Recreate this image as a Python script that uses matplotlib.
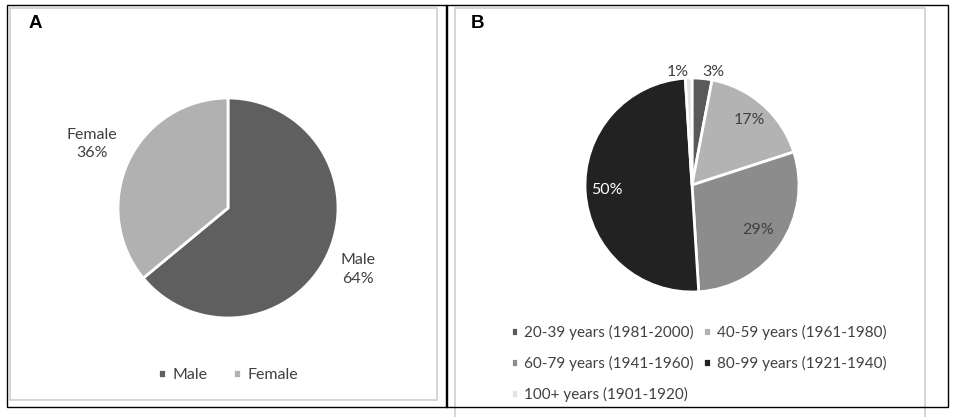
import matplotlib.pyplot as plt
from matplotlib.patches import Rectangle
import numpy as np

W, H = 957, 417

sex_labels = ['Male', 'Female']
sex_values = [64, 36]
sex_colors = ['#5f5f5f', '#b1b1b1']

age_labels = ['20-39 years (1981-2000)', '40-59 years (1961-1980)',
              '60-79 years (1941-1960)', '80-99 years (1921-1940)',
              '100+ years (1901-1920)']
age_values = [3, 17, 29, 50, 1]
age_colors = ['#5a5a5a', '#b3b3b3', '#8c8c8c', '#222222', '#e2e2e2']

plt.rcParams['font.family'] = ['Lato', 'DejaVu Sans']
txt = '#404040'
fs = 11


def px_axes(fig, x0, y0, x1, y1):
    return fig.add_axes([x0 / W, 1 - y1 / H, (x1 - x0) / W, (y1 - y0) / H])


def frame(fig, x0, y0, x1, y1, color, lw):
    fig.add_artist(Rectangle((x0 / W, 1 - y1 / H), (x1 - x0) / W, (y1 - y0) / H,
                             transform=fig.transFigure, fill=False,
                             edgecolor=color, linewidth=lw))


fig = plt.figure(figsize=(W / 100, H / 100), dpi=100)

frame(fig, 10, 8, 437, 400, '#d0d0d0', 1.2)
frame(fig, 455, 8, 925, 420, '#d0d0d0', 1.2)
frame(fig, 7, 5, 447, 407, '#000000', 1.0)
frame(fig, 446, 5, 948, 407, '#000000', 1.0)

fig.text(35 / W, 1 - 23 / H, 'A', fontsize=13.5, fontweight='bold',
         family='Liberation Sans', ha='center', va='center')
fig.text(478 / W, 1 - 23 / H, 'B', fontsize=13.5, fontweight='bold',
         family='Liberation Sans', ha='center', va='center')

# panel A
ax1 = px_axes(fig, 118, 98, 338, 318)
wedges1, _ = ax1.pie(sex_values, colors=sex_colors, startangle=90, counterclock=False,
                     wedgeprops=dict(edgecolor='white', linewidth=2))
for w, lab, v, d in zip(wedges1, sex_labels, sex_values, [1.31, 1.37]):
    ang = np.deg2rad((w.theta1 + w.theta2) / 2)
    ax1.text(d * np.cos(ang), d * np.sin(ang), '%s\n%d%%' % (lab, v),
             ha='center', va='center', fontsize=fs + 0.5, color=txt, linespacing=1.4)
ax1.set_xlim(-1, 1)
ax1.set_ylim(-1, 1)

fig.legend(wedges1, sex_labels, loc='center', bbox_to_anchor=(228 / W, 1 - 375 / H),
           ncol=2, frameon=False, fontsize=fs + 0.5, handlelength=0.5, handleheight=0.5,
           handletextpad=0.4, columnspacing=1.6, labelcolor=txt)

# panel B
ax2 = px_axes(fig, 585, 78, 799, 292)
wedges2, _ = ax2.pie(age_values, colors=age_colors, startangle=90, counterclock=False,
                     wedgeprops=dict(edgecolor='white', linewidth=2))
dists = [1.06, 0.81, 0.75, 0.80, 1.06]
aligns = ['left', 'center', 'center', 'center', 'right']
for w, v, d, ha, c in zip(wedges2, age_values, dists, aligns,
                          [txt, txt, txt, 'white', txt]):
    ang = np.deg2rad((w.theta1 + w.theta2) / 2)
    ax2.text(d * np.cos(ang), d * np.sin(ang), '%d%%' % v,
             ha=ha, va='center', fontsize=fs + 0.5, color=c)
ax2.set_xlim(-1, 1)
ax2.set_ylim(-1, 1)

order = [0, 2, 4, 1, 3]
fig.legend([wedges2[i] for i in order], [age_labels[i] for i in order],
           loc='upper left', bbox_to_anchor=(497 / W, 1 - 311 / H), ncol=2,
           frameon=False, fontsize=fs, handlelength=0.5, handleheight=0.5,
           handletextpad=0.4, columnspacing=0.6, labelspacing=1.05, labelcolor=txt)

plt.savefig('out.png', dpi=100)
